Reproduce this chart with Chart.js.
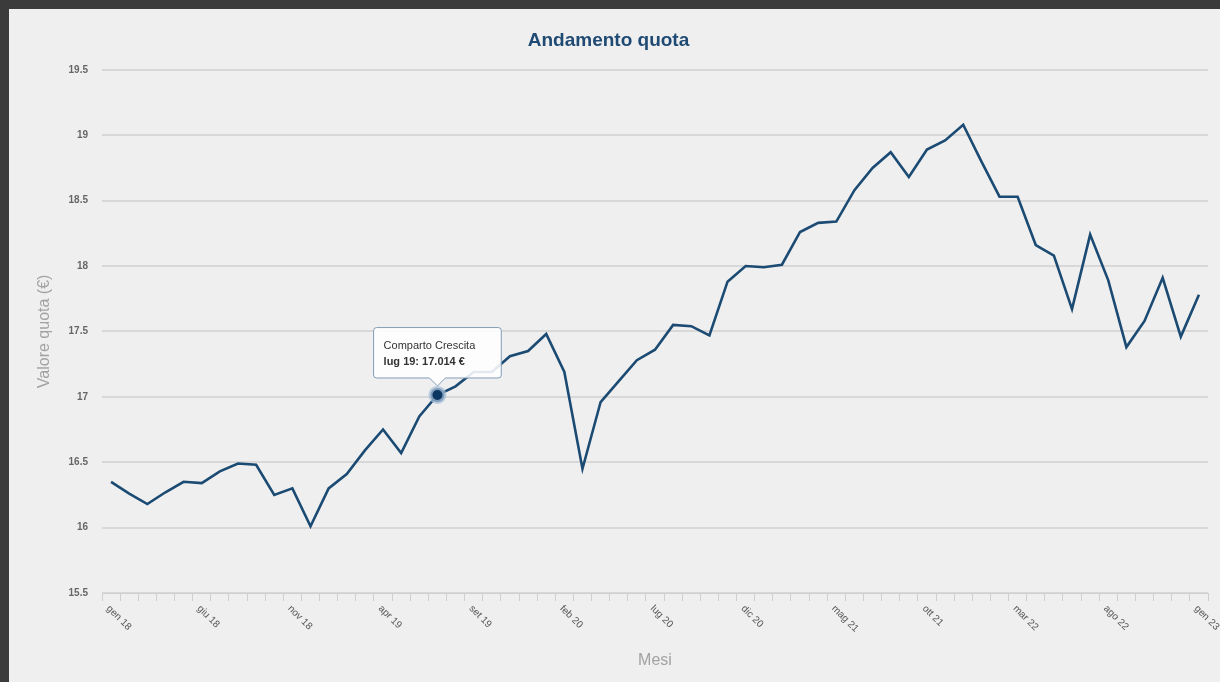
<!DOCTYPE html>
<html>
<head>
<meta charset="utf-8">
<script src="https://cdn.jsdelivr.net/npm/chart.js@4.4.1/dist/chart.umd.min.js"></script>
<style>
    html, body { margin: 0; padding: 0; background: #3b3b3b; }
    #panel {
        position: absolute;
        left: 9px;
        top: 9px;
        width: 1211px;
        height: 673px;
        background: #efefef;
    }
</style>
</head>
<body>
<div id="panel"><canvas id="quotaChart"></canvas></div>
<script>
/*
------------------------------------------------------------
Dati
------------------------------------------------------------
*/

const MONTHS = ["gen", "feb", "mar", "apr", "mag", "giu", "lug", "ago", "set", "ott", "nov", "dic"];
const YEARS = ["18", "19", "20", "21", "22", "23"];

// gen 18 ... gen 23 (61 mesi)
const labels = [];
YEARS.forEach(y => MONTHS.forEach(m => labels.push(`${m} ${y}`)));
labels.length = 61;

const quota = [
    16.35, 16.26, 16.18, 16.27, 16.35, 16.34, 16.43, 16.49, 16.48, 16.25,
    16.30, 16.01, 16.30, 16.41, 16.59, 16.75, 16.57, 16.85, 17.014, 17.08,
    17.19, 17.19, 17.31, 17.35, 17.48, 17.19, 16.45, 16.96, 17.12, 17.28,
    17.36, 17.55, 17.54, 17.47, 17.88, 18.00, 17.99, 18.01, 18.26, 18.33,
    18.34, 18.58, 18.75, 18.87, 18.68, 18.89, 18.96, 19.08, 18.80, 18.53,
    18.53, 18.16, 18.08, 17.67, 18.24, 17.89, 17.38, 17.58, 17.91, 17.46,
    17.78
];

const seriesName = "Comparto Crescita";
const labelStep = 5;
const tooltipIndex = 18;

const FONT = "'Liberation Sans', Arial, sans-serif";

/*
------------------------------------------------------------
Etichette asse X ruotate (+45°)
------------------------------------------------------------
*/

const rotatedLabels = {
    id: "rotatedLabels",
    afterDraw(chart) {
        const ctx = chart.ctx;
        const xs = chart.scales.x;
        ctx.save();
        ctx.fillStyle = "#555";
        ctx.font = "10px " + FONT;
        ctx.textAlign = "left";
        ctx.textBaseline = "middle";
        labels.forEach((lab, i) => {
            if (i % labelStep !== 0) return;
            const x = xs.getPixelForValue(i);
            ctx.save();
            ctx.translate(x - 3, xs.top + 14);
            ctx.rotate(Math.PI / 4);
            ctx.fillText(lab, 0, 0);
            ctx.restore();
        });
        ctx.restore();
    }
};

/*
------------------------------------------------------------
Grafico
------------------------------------------------------------
*/

const ctx = document.getElementById("quotaChart").getContext("2d");

const chart = new Chart(ctx, {
    type: "line",
    data: {
        labels: labels,
        datasets: [{
            label: seriesName,
            data: quota,
            borderColor: "#1b4a73",
            borderWidth: 2.6,
            tension: 0,
            fill: false,
            pointRadius: 0,
            pointHoverRadius: 7,
            pointHoverBackgroundColor: "#0b3762",
            pointHoverBorderColor: "rgba(165,190,215,0.75)",
            pointHoverBorderWidth: 4
        }]
    },
    options: {
        responsive: true,
        maintainAspectRatio: false,
        animation: false,
        layout: {
            padding: { left: 0, right: 12, top: 0, bottom: 0 }
        },
        plugins: {
            legend: { display: false },
            title: {
                display: true,
                text: "Andamento quota",
                color: "#1f4a73",
                font: { family: FONT, size: 19, weight: "bold" },
                padding: { top: 20, bottom: 18 }
            },
            tooltip: {
                enabled: true,
                xAlign: "center",
                yAlign: "bottom",
                backgroundColor: "rgba(255,255,255,0.88)",
                borderColor: "#7f9db8",
                borderWidth: 1,
                cornerRadius: 3,
                caretSize: 8,
                caretPadding: 9,
                padding: { left: 10, right: 26, top: 12, bottom: 9 },
                titleColor: "#333",
                bodyColor: "#333",
                titleFont: { family: FONT, size: 11, weight: "normal" },
                bodyFont: { family: FONT, size: 11, weight: "bold" },
                titleMarginBottom: 3,
                displayColors: false,
                callbacks: {
                    title: (items) => items[0].dataset.label,
                    label: (item) => `${labels[item.dataIndex]}: ${item.raw.toFixed(3)} €`
                }
            }
        },
        scales: {
            x: {
                offset: true,
                afterFit: (scale) => { scale.height = 89; },
                grid: {
                    display: true,
                    offset: true,
                    drawOnChartArea: false,
                    drawTicks: true,
                    tickLength: 8,
                    color: "#cfcfcf"
                },
                border: { display: true, color: "#cfcfcf", width: 1 },
                ticks: { display: false, autoSkip: false },
                title: {
                    display: true,
                    text: "Mesi",
                    color: "#a2a2a2",
                    font: { family: FONT, size: 16 },
                    padding: { top: 0, bottom: 12 }
                }
            },
            y: {
                min: 15.5,
                max: 19.5,
                afterFit: (scale) => { scale.width = 93; },
                grid: {
                    color: "#d8d8d8",
                    lineWidth: 2,
                    drawTicks: false
                },
                border: { display: false },
                ticks: {
                    stepSize: 0.5,
                    padding: 14,
                    color: "#666",
                    font: { family: FONT, size: 10, weight: "bold" },
                    callback: (v) => String(v)
                },
                title: {
                    display: true,
                    text: "Valore quota (€)",
                    color: "#a2a2a2",
                    font: { family: FONT, size: 16 },
                    padding: { top: 26, bottom: 0 }
                }
            }
        }
    },
    plugins: [rotatedLabels]
});

/*
------------------------------------------------------------
Tooltip attivo su lug 19
------------------------------------------------------------
*/

const pt = chart.getDatasetMeta(0).data[tooltipIndex];
chart.setActiveElements([{ datasetIndex: 0, index: tooltipIndex }]);
chart.tooltip.setActiveElements(
    [{ datasetIndex: 0, index: tooltipIndex }],
    { x: pt.x, y: pt.y }
);
chart.update();
</script>
</body>
</html>
